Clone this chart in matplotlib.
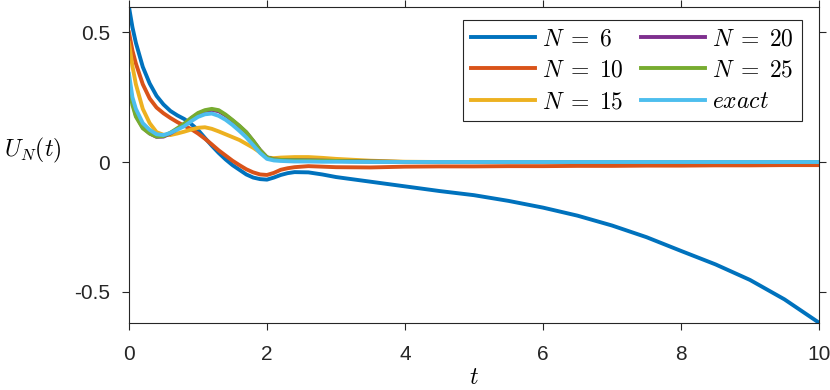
import matplotlib.pyplot as plt

# sample times
t = [0, 0.05, 0.1, 0.2, 0.3, 0.4, 0.5, 0.6, 0.7, 0.8, 0.9, 1.0, 1.1, 1.2, 1.3,
     1.4, 1.5, 1.6, 1.7, 1.8, 1.9, 2.0, 2.1, 2.2, 2.3, 2.4, 2.6, 2.8, 3.0, 3.5,
     4.0, 4.5, 5.0, 5.5, 6.0, 6.5, 7.0, 7.5, 8.0, 8.5, 9.0, 9.5, 10.0]

u6 = [0.598, 0.52, 0.46, 0.367, 0.303, 0.255, 0.222, 0.197, 0.18, 0.166,
      0.147, 0.124, 0.093, 0.063, 0.035, 0.01, -0.012, -0.03, -0.048, -0.06,
      -0.066, -0.068, -0.06, -0.05, -0.043, -0.039, -0.04, -0.048, -0.058,
      -0.076, -0.094, -0.112, -0.128, -0.15, -0.176, -0.207, -0.245, -0.29,
      -0.343, -0.395, -0.455, -0.53, -0.62]
u10 = [0.50, 0.43, 0.38, 0.30, 0.245, 0.21, 0.188, 0.17, 0.154, 0.14, 0.127,
       0.11, 0.09, 0.068, 0.045, 0.025, 0.005, -0.012, -0.028, -0.04, -0.048,
       -0.05, -0.042, -0.03, -0.024, -0.02, -0.016, -0.018, -0.02, -0.021,
       -0.018, -0.017, -0.017, -0.016, -0.016, -0.015, -0.015, -0.014, -0.014,
       -0.013, -0.013, -0.012, -0.012]
u15 = [0.46, 0.37, 0.30, 0.205, 0.15, 0.115, 0.105, 0.104, 0.11, 0.117,
       0.125, 0.132, 0.134, 0.128, 0.118, 0.107, 0.096, 0.085, 0.07, 0.055,
       0.037, 0.017, 0.015, 0.017, 0.018, 0.019, 0.019, 0.016, 0.012, 0.005,
       0.001, 0.0, 0.0, 0.0, 0.0, 0.0, 0.0, 0.0, 0.0, 0.0, 0.0, 0.0, 0.0]
u20 = [0.31, 0.235, 0.18, 0.133, 0.11, 0.097, 0.098, 0.11, 0.127, 0.146,
       0.168, 0.186, 0.197, 0.201, 0.196, 0.18, 0.16, 0.138, 0.114, 0.081,
       0.046, 0.018, 0.01, 0.008, 0.007, 0.007, 0.006, 0.005, 0.004, 0.002,
       0.0, 0.0, 0.0, 0.0, 0.0, 0.0, 0.0, 0.0, 0.0, 0.0, 0.0, 0.0, 0.0]
u25 = [0.29, 0.22, 0.175, 0.13, 0.11, 0.098, 0.1, 0.113, 0.13, 0.148, 0.17,
       0.189, 0.2, 0.205, 0.2, 0.183, 0.162, 0.14, 0.115, 0.082, 0.046, 0.018,
       0.01, 0.008, 0.007, 0.007, 0.006, 0.005, 0.004, 0.002, 0.0, 0.0, 0.0,
       0.0, 0.0, 0.0, 0.0, 0.0, 0.0, 0.0, 0.0, 0.0, 0.0]
uex = [0.34, 0.25, 0.205, 0.15, 0.124, 0.107, 0.104, 0.112, 0.125, 0.138,
       0.157, 0.174, 0.184, 0.187, 0.178, 0.163, 0.143, 0.12, 0.095, 0.065,
       0.035, 0.012, 0.006, 0.004, 0.003, 0.002, 0.002, 0.001, 0.001, 0.0,
       0.0, 0.0, 0.0, 0.0, 0.0, 0.0, 0.0, 0.0, 0.0, 0.0, 0.0, 0.0, 0.0]

series = [u6, u10, u15, u20, u25, uex]
labels = ['$N\\;=\\;6$', '$N\\;=\\;10$', '$N\\;=\\;15$', '$N\\;=\\;20$',
          '$N\\;=\\;25$', '$\\mathit{exact}$']
colors = ['#0072BD', '#D95319', '#EDB120', '#7E2F8E', '#77AC30', '#4DBEEE']

plt.rcParams['mathtext.fontset'] = 'cm'
plt.rcParams['font.family'] = ['Liberation Sans', 'DejaVu Sans']

fig = plt.figure(figsize=(8.3, 3.9), dpi=100)
ax = fig.add_axes([0.1554, 0.1726, 0.8313, 0.8094])

for u, lab, c in zip(series, labels, colors):
    ax.plot(t, u, color=c, lw=2.8, label=lab)

ax.set_xlim(0, 10)
ax.set_ylim(min(u6), max(u6))
ax.set_xticks([0, 2, 4, 6, 8, 10])
ax.set_yticks([-0.5, 0, 0.5])
ax.set_yticklabels(['-0.5', '0', '0.5'])

gray = '#262626'
for s in ax.spines.values():
    s.set_color(gray)
    s.set_linewidth(0.8)
ax.tick_params(direction='out', top=True, right=True, length=5, width=0.8,
               colors=gray, labelsize=15)
ax.tick_params(axis='x', pad=11)
ax.tick_params(axis='y', pad=8.5)

ax.set_xlabel('$t$', fontsize=17, labelpad=2)
ax.set_ylabel('$U_N(t)$', fontsize=17, rotation=0, labelpad=0)
ax.yaxis.set_label_coords(-0.14, 0.5)

leg = ax.legend(ncol=2, loc='upper right', bbox_to_anchor=(0.9754, 0.959),
                borderaxespad=0, fontsize=17, handlelength=2.7,
                columnspacing=0.75, handletextpad=0.3, labelspacing=0.4,
                borderpad=0.35, fancybox=False, framealpha=1)
leg.get_frame().set_edgecolor(gray)
leg.get_frame().set_linewidth(0.8)

fig.savefig('out.png', dpi=100)
